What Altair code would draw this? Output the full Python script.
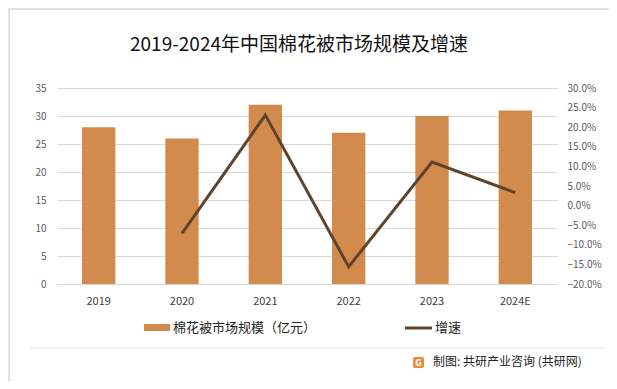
import altair as alt
import pandas as pd

years = ["2019", "2020", "2021", "2022", "2023", "2024E"]
market_size = [28, 26, 32, 27, 30, 31]
growth = [None, -0.071, 0.231, -0.156, 0.111, 0.033]

title_text = "2019-2024年中国棉花被市场规模及增速"
bar_label = "棉花被市场规模（亿元）"
line_label = "增速"
source_text = "制图: 共研产业咨询 (共研网)"

BAR_COLOR = "#D38B4D"
LINE_COLOR = "#5E442D"
GRID = "#D9D9D9"
FONT = "Noto Sans CJK SC"

df = pd.DataFrame({"year": years, "size": market_size, "growth": growth})
one = pd.DataFrame({"k": [0]})

xenc = alt.X("year:N", sort=years, title=None,
             scale=alt.Scale(paddingInner=0.6, paddingOuter=0.3),
             axis=alt.Axis(labelAngle=0, ticks=False, domainColor=GRID, grid=False,
                           labelColor="#404040", labelFontSize=11,
                           labelPadding=11, labelFont=FONT))

bars = alt.Chart(df).mark_bar(color=BAR_COLOR).encode(
    x=xenc,
    y=alt.Y("size:Q", title=None,
            scale=alt.Scale(domain=[0, 35], nice=False),
            axis=alt.Axis(values=[0, 5, 10, 15, 20, 25, 30, 35], ticks=False,
                          domain=False, gridColor=GRID, labelColor="#595959",
                          labelFontSize=10, labelPadding=11, labelFont=FONT)),
)

line = alt.Chart(df).mark_line(color=LINE_COLOR, strokeWidth=3).encode(
    x=alt.X("year:N", sort=years),
    y=alt.Y("growth:Q", title=None,
            scale=alt.Scale(domain=[-0.2, 0.3], nice=False),
            axis=alt.Axis(orient="right", format=".1%", grid=False, ticks=False,
                          domain=False, labelColor="#595959", labelFontSize=10,
                          labelPadding=10, labelFont=FONT,
                          values=[-0.2, -0.15, -0.1, -0.05, 0, 0.05, 0.1, 0.15, 0.2, 0.25, 0.3])),
)

main = alt.layer(bars, line).resolve_scale(y="independent")

border = alt.Chart(one).mark_rect(fillOpacity=0, stroke=GRID, strokeWidth=1.5).encode(
    x=alt.value(-48), x2=alt.value(555), y=alt.value(-79), y2=alt.value(294))
sep = alt.Chart(one).mark_rule(color="#E3E3E3", strokeWidth=1).encode(
    x=alt.value(-28), x2=alt.value(548), y=alt.value(260))
title = alt.Chart(one).mark_text(fontSize=19, font=FONT, color="#111111",
                                 align="center", baseline="middle").encode(
    x=alt.value(242), y=alt.value(-43), text=alt.value(title_text))
leg_rect = alt.Chart(one).mark_rect(color=BAR_COLOR).encode(
    x=alt.value(87), x2=alt.value(113), y=alt.value(236), y2=alt.value(243))
leg_text1 = alt.Chart(one).mark_text(fontSize=13, font=FONT, color="#222222",
                                     align="left", baseline="middle").encode(
    x=alt.value(116), y=alt.value(240), text=alt.value(bar_label))
leg_line = alt.Chart(one).mark_rule(color=LINE_COLOR, strokeWidth=3).encode(
    x=alt.value(348), x2=alt.value(375), y=alt.value(240))
leg_text2 = alt.Chart(one).mark_text(fontSize=13, font=FONT, color="#222222",
                                     align="left", baseline="middle").encode(
    x=alt.value(378), y=alt.value(240), text=alt.value(line_label))
logo = alt.Chart(one).mark_rect(color="#F08A3C", cornerRadius=2).encode(
    x=alt.value(356), x2=alt.value(367), y=alt.value(269), y2=alt.value(280))
logo_g = alt.Chart(one).mark_text(fontSize=9, font=FONT, color="white", fontWeight="bold",
                                  align="center", baseline="middle").encode(
    x=alt.value(361.5), y=alt.value(274.5), text=alt.value("G"))
source = alt.Chart(one).mark_text(fontSize=12, font=FONT, color="#222222",
                                  align="left", baseline="middle").encode(
    x=alt.value(376), y=alt.value(274), text=alt.value(source_text))

deco = alt.layer(border, sep, title, leg_rect, leg_text1, leg_line, leg_text2,
                 logo, logo_g, source)

chart = alt.layer(main, deco).properties(
    width=500, height=196,
    background="white",
    view=alt.ViewBackground(stroke=None, strokeWidth=0),
    autosize=alt.AutoSizeParams(type="none"),
    padding={"left": 49, "top": 80, "right": 52, "bottom": 97},
).configure_view(stroke=None, strokeWidth=0)

chart.save("out.html", embed_options={"renderer": "svg", "actions": False})
